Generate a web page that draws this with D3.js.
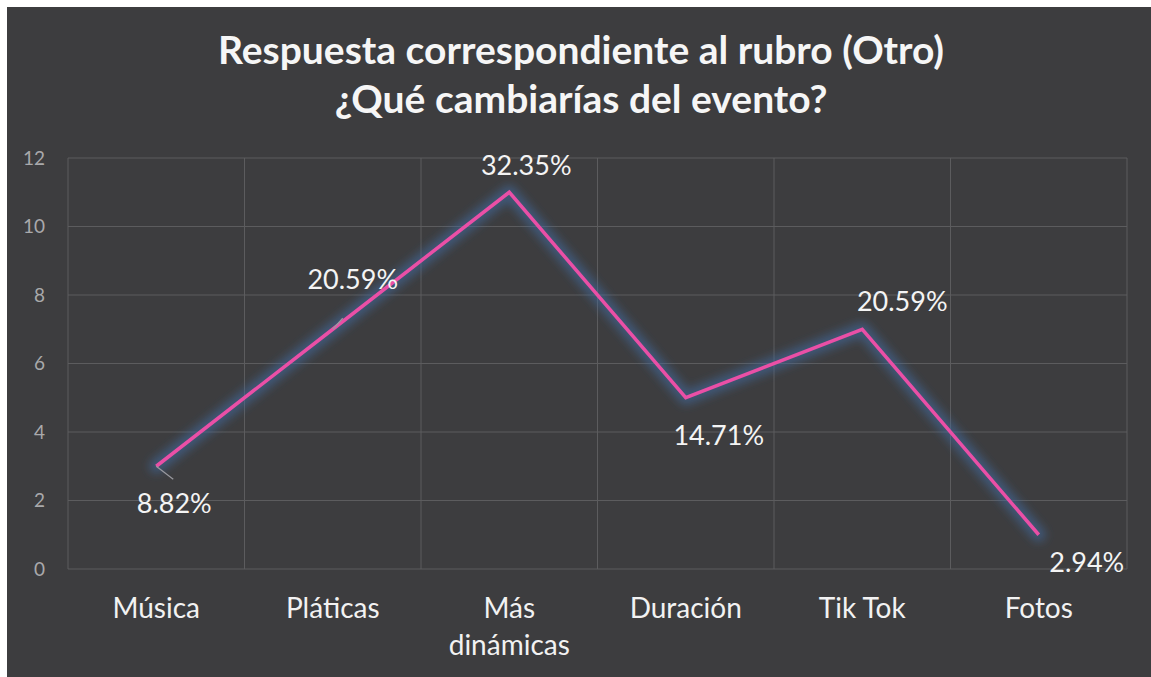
<!DOCTYPE html>
<html>
<head>
<meta charset="utf-8">
<script src="https://cdn.jsdelivr.net/npm/d3@7"></script>
<style>
  html, body { margin: 0; padding: 0; background: #fff; }
  svg { display: block; }
</style>
</head>
<body>
<div id="chart"></div>
<script>
// --- Data ---
const categories = ["Música", "Pláticas", "Más dinámicas", "Duración", "Tik Tok", "Fotos"];
const counts = [3, 7, 11, 5, 7, 1];
const pctLabels = ["8.82%", "20.59%", "32.35%", "14.71%", "20.59%", "2.94%"];
const yTicks = [0, 2, 4, 6, 8, 10, 12];
const titleLines = ["Respuesta correspondiente al rubro (Otro)", "¿Qué cambiarías del evento?"];

// label offsets relative to point (dx, dy) – where the picture puts them
const labelOffsets = [[18, 47], [20, -40], [17, -17], [33, 47], [40, -18], [48, 37]];
const leaders = [true, true, false, false, false, false];

// --- Layout ---
const W = 1151, H = 677;
const margin = { top: 158, right: 24, bottom: 108, left: 68 };
const font = "Lato, 'Open Sans', sans-serif";

const svg = d3.select("#chart").append("svg")
  .attr("width", W).attr("height", H);

svg.append("rect").attr("x", 7).attr("y", 7)
  .attr("width", W - 7).attr("height", H - 7)
  .attr("fill", "#3d3d3f");

const x = d3.scaleBand()
  .domain(categories)
  .range([margin.left, W - margin.right]);

const y = d3.scaleLinear()
  .domain([0, 12])
  .range([H - margin.bottom, margin.top]);

// glow filter for the line
const defs = svg.append("defs");
const glow = defs.append("filter").attr("id", "glow")
  .attr("x", "-10%").attr("y", "-10%").attr("width", "120%").attr("height", "120%");
glow.append("feGaussianBlur").attr("in", "SourceGraphic").attr("stdDeviation", 5);

// Gridlines
const grid = svg.append("g").attr("stroke", "#5c5c5e").attr("stroke-width", 1);
grid.selectAll("line.h").data(yTicks).enter().append("line")
  .attr("x1", margin.left).attr("x2", W - margin.right)
  .attr("y1", d => y(d)).attr("y2", d => y(d));
const xEdges = categories.map(c => x(c)).concat([x(categories[categories.length - 1]) + x.bandwidth()]);
grid.selectAll("line.v").data(xEdges).enter().append("line")
  .attr("x1", d => d).attr("x2", d => d)
  .attr("y1", y(12)).attr("y2", y(0));

// Y axis labels
const yAxis = svg.append("g")
  .attr("transform", `translate(${margin.left},0)`)
  .call(d3.axisLeft(y).tickValues(yTicks).tickSize(0).tickPadding(23));
yAxis.select(".domain").remove();
yAxis.selectAll("text")
  .attr("fill", "#a9a9ab").attr("font-size", 19).attr("font-family", font);

// X axis labels
const xAxis = svg.append("g")
  .attr("transform", `translate(0,${y(0)})`)
  .call(d3.axisBottom(x).tickSize(0).tickPadding(0));
xAxis.select(".domain").remove();
xAxis.selectAll("text").remove();
xAxis.selectAll(".tick").each(function (d) {
  const words = d === "Más dinámicas" ? ["Más", "dinámicas"] : [d];
  const t = d3.select(this).append("text")
    .attr("fill", "#f2f2f2").attr("font-size", 28).attr("font-family", font)
    .attr("text-anchor", "middle");
  words.forEach((w, i) => t.append("tspan").attr("x", 0).attr("y", 49 + i * 37).text(w));
});

// Line
const pts = categories.map((c, i) => [x(c) + x.bandwidth() / 2, y(counts[i])]);
const line = d3.line();
svg.append("path").attr("d", line(pts))
  .attr("fill", "none").attr("stroke", "#3f6a9e").attr("stroke-width", 14)
  .attr("stroke-opacity", 0.6).attr("stroke-linejoin", "round").attr("stroke-linecap", "round")
  .attr("filter", "url(#glow)");
svg.append("path").attr("d", line(pts))
  .attr("fill", "none").attr("stroke", "#ea4fa6").attr("stroke-width", 3.5)
  .attr("stroke-linejoin", "miter");

// Leader lines
svg.append("g").selectAll("line").data(pts.filter((p, i) => leaders[i]))
  .enter().append("line")
  .attr("x1", d => d[0]).attr("y1", d => d[1])
  .attr("x2", (d, k) => d[0] + (k === 0 ? 17 : 10))
  .attr("y2", (d, k) => d[1] + (k === 0 ? 13 : -11))
  .attr("stroke", "#9a9aa0").attr("stroke-width", 1.2);

// Data labels
svg.append("g").selectAll("text").data(pts).enter().append("text")
  .attr("x", (d, i) => d[0] + labelOffsets[i][0])
  .attr("y", (d, i) => d[1] + labelOffsets[i][1])
  .attr("text-anchor", "middle")
  .attr("fill", "#f4f4f4").attr("font-size", 27).attr("font-family", font)
  .text((d, i) => pctLabels[i]);

// Title
svg.append("g").selectAll("text").data(titleLines).enter().append("text")
  .attr("x", 581).attr("y", (d, i) => 64 + i * 49)
  .attr("text-anchor", "middle")
  .attr("fill", "#f6f6f6").attr("font-size", 39).attr("font-weight", "bold")
  .attr("font-family", font)
  .text(d => d);
</script>
</body>
</html>
